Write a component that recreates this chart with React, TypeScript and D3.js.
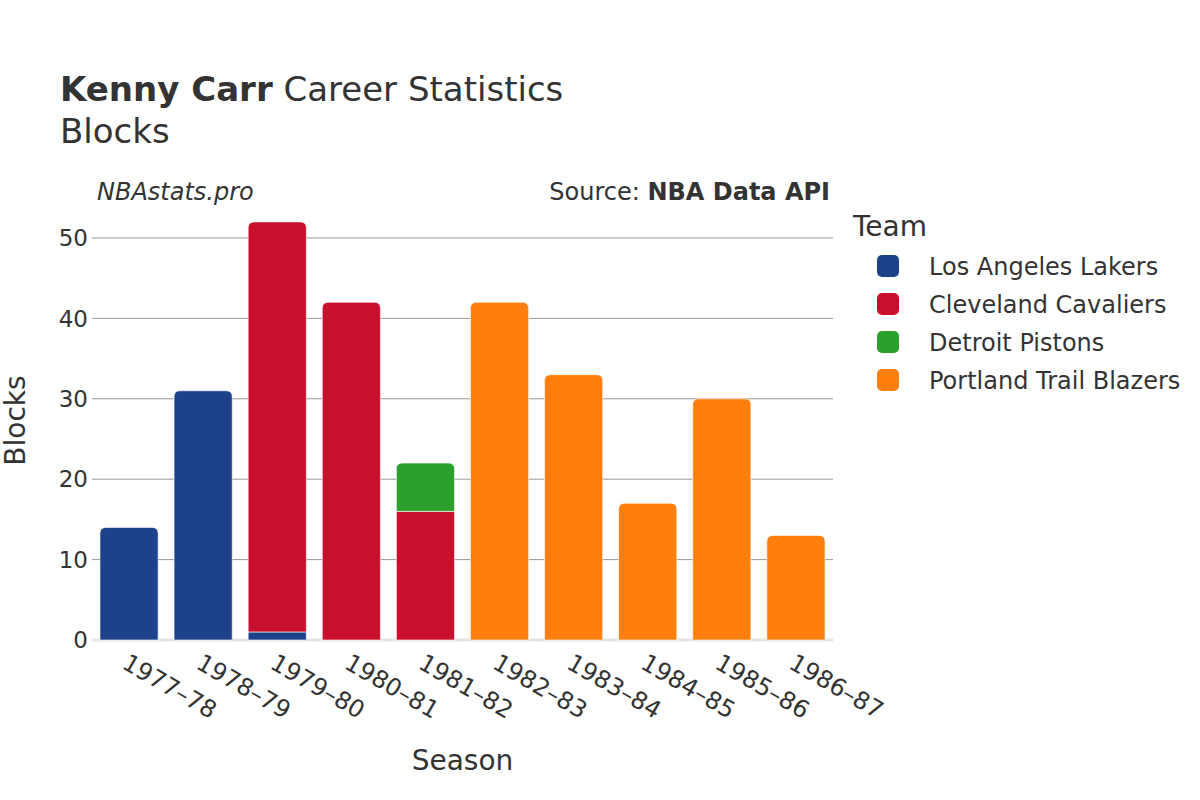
import React from "react";
import * as d3 from "d3";

const seasons = ["1977–78", "1978–79", "1979–80", "1980–81", "1981–82", "1982–83", "1983–84", "1984–85", "1985–86", "1986–87"];
const teams = ["Los Angeles Lakers", "Cleveland Cavaliers", "Detroit Pistons", "Portland Trail Blazers"];
const teamColors = ["#1d428a", "#c8102e", "#2ca02c", "#ff7f0e"];
const lakers = [14, 31, 1, 0, 0, 0, 0, 0, 0, 0];
const cavaliers = [0, 0, 51, 42, 16, 0, 0, 0, 0, 0];
const pistons = [0, 0, 0, 0, 6, 0, 0, 0, 0, 0];
const blazers = [0, 0, 0, 0, 0, 42, 33, 17, 30, 13];
const yTicks = [0, 10, 20, 30, 40, 50];

const FONT = "'DejaVu Sans', sans-serif";

function topRoundedRect(x: number, y: number, w: number, h: number, r: number) {
  const rr = Math.min(r, h, w / 2);
  return `M${x},${y + h}V${y + rr}Q${x},${y} ${x + rr},${y}H${x + w - rr}Q${x + w},${y} ${x + w},${y + rr}V${y + h}Z`;
}

export default function App() {
  const width = 1200, height = 800;
  const left = 92, right = 833, top = 201, bottom = 640;
  const x = d3.scaleBand<string>().domain(seasons).range([left, right]).paddingInner(0.215).paddingOuter(0.1075);
  const y = d3.scaleLinear().domain([0, 54.6]).range([bottom, top]);

  const rows = seasons.map((s, i) => ({ season: s, "0": lakers[i], "1": cavaliers[i], "2": pistons[i], "3": blazers[i] }));
  const stack = d3.stack<any>().keys(["0", "1", "2", "3"])(rows);

  const bars: React.ReactNode[] = [];
  seasons.forEach((s, i) => {
    let topK = -1;
    stack.forEach((layer, k) => { if (layer[i][1] - layer[i][0] > 0) topK = k; });
    stack.forEach((layer, k) => {
      const [y0, y1] = layer[i];
      if (y1 - y0 <= 0) return;
      const bx = x(s)!;
      const bw = x.bandwidth();
      const yt = y(y1), yb = y(y0);
      const d = k === topK ? topRoundedRect(bx, yt, bw, yb - yt, 6) : `M${bx},${yb}V${yt}H${bx + bw}V${yb}Z`;
      bars.push(
        <path key={`${i}-${k}`} d={d} fill={teamColors[k]} stroke="rgba(255,255,255,0.6)" strokeWidth={1} />
      );
    });
  });

  return (
    <svg width={width} height={height} style={{ display: "block", position: "absolute", left: 0, top: 0 }} fontFamily={FONT}>
      <rect width={width} height={height} fill="#fff" />
      <text x={60} y={101} fontSize={34} fill="#333">
        <tspan fontWeight="bold">Kenny Carr</tspan>
        <tspan> Career Statistics</tspan>
      </text>
      <text x={60} y={143} fontSize={34} fill="#333">Blocks</text>
      <text x={97} y={200} fontSize={24} fontStyle="italic" fill="#333">NBAstats.pro</text>
      <text x={830} y={200} fontSize={24} textAnchor="end" fill="#333">
        Source: <tspan fontWeight="bold">NBA Data API</tspan>
      </text>

      {yTicks.filter(t => t > 0).map(t => (
        <line key={t} x1={left} x2={right} y1={y(t)} y2={y(t)} stroke="#999" strokeWidth={1} />
      ))}
      {yTicks.map(t => (
        <text key={t} x={88} y={y(t)} dy="0.36em" fontSize={23} textAnchor="end" fill="#333">{t}</text>
      ))}
      <line x1={left} x2={right} y1={y(0)} y2={y(0)} stroke="#e5e5e5" strokeWidth={3} />
      {bars}

      {seasons.map(s => {
        const cx = x(s)! + x.bandwidth() / 2;
        return (
          <text key={s} transform={`translate(${cx},${653}) rotate(30)`} fontSize={24} fill="#333" dy="0.7em">{s}</text>
        );
      })}

      <text transform={`translate(15,${(top + bottom) / 2}) rotate(-90)`} textAnchor="middle" fontSize={28} fill="#333" dy="0.35em">Blocks</text>
      <text x={(left + right) / 2} y={770} textAnchor="middle" fontSize={28} fill="#333">Season</text>

      <text x={853} y={236} fontSize={28} fill="#333">Team</text>
      {teams.map((t, k) => (
        <g key={t} transform={`translate(0,${266 + k * 38})`}>
          <rect x={877} y={-11} width={22} height={22} rx={5} fill={teamColors[k]} />
          <text x={929} y={0} dy="0.36em" fontSize={24} fill="#333">{t}</text>
        </g>
      ))}
    </svg>
  );
}
